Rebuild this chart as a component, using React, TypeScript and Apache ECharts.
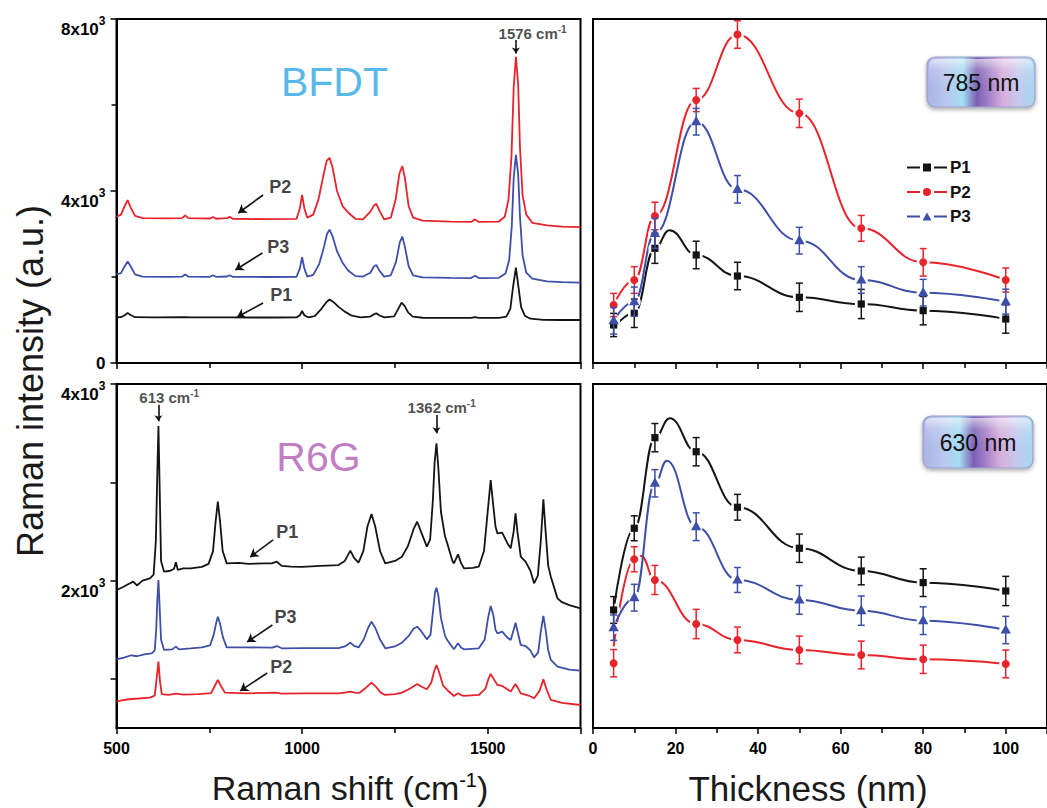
import React, { useEffect, useRef } from 'react';
import * as echarts from 'echarts';

const FONT = '"Liberation Sans", Arial, Helvetica, sans-serif';
const BLACK = '#141414';
const RED = '#e8232b';
const BLUE = '#3d4fa8';

// BFDT spectra: [Raman shift (cm-1), intensity]
const bfdtP1: number[][] = [
  [500, 1060], [512, 1065], [522, 1110], [530, 1165], [538, 1115], [550, 1065], [600, 1062], [684, 1068], [700, 1060],
  [760, 1062], [805, 1062], [860, 1058], [930, 1058], [985, 1060], [994, 1110], [1000, 1210], [1006, 1110], [1016, 1062],
  [1034, 1090], [1052, 1260], [1066, 1420], [1074, 1475], [1084, 1420], [1099, 1300], [1114, 1200], [1134, 1100],
  [1158, 1062], [1183, 1078], [1194, 1135], [1200, 1155], [1209, 1105], [1222, 1062], [1248, 1085], [1258, 1240],
  [1268, 1405], [1276, 1330], [1286, 1170], [1298, 1080], [1325, 1052], [1400, 1050], [1455, 1048], [1466, 1065],
  [1476, 1048], [1530, 1048], [1550, 1080], [1561, 1260], [1568, 1750], [1576, 2220], [1583, 1760], [1590, 1300],
  [1600, 1100], [1615, 1030], [1650, 1005], [1700, 1000], [1750, 1000],
];
const bfdtP3: number[][] = [
  [500, 2060], [512, 2090], [522, 2250], [530, 2360], [538, 2250], [550, 2060], [570, 2010], [640, 2005], [676, 2008],
  [685, 2060], [694, 2008], [752, 2005], [760, 2040], [768, 2005], [798, 2012], [805, 2040], [813, 2005], [900, 2000],
  [985, 2005], [994, 2200], [1000, 2460], [1006, 2200], [1014, 2010], [1030, 2050], [1046, 2300], [1059, 2700],
  [1067, 3000], [1074, 3100], [1082, 2950], [1094, 2600], [1109, 2330], [1124, 2150], [1144, 2020], [1164, 2010],
  [1184, 2100], [1194, 2250], [1200, 2280], [1208, 2150], [1221, 2010], [1239, 2040], [1253, 2350], [1263, 2800],
  [1270, 2940], [1277, 2700], [1287, 2250], [1299, 2040], [1325, 1990], [1400, 1980], [1455, 1975], [1466, 2030],
  [1476, 1975], [1530, 1980], [1548, 2080], [1558, 2400], [1565, 3200], [1570, 4300], [1576, 4840], [1582, 4400],
  [1587, 3400], [1594, 2500], [1604, 2100], [1620, 1960], [1660, 1900], [1700, 1880], [1750, 1870],
];
const bfdtP2: number[][] = [
  [500, 3400], [512, 3450], [522, 3650], [530, 3790], [538, 3620], [550, 3420], [570, 3370], [640, 3365], [676, 3370],
  [685, 3430], [694, 3370], [752, 3360], [760, 3395], [768, 3355], [798, 3370], [805, 3400], [813, 3355], [900, 3345],
  [985, 3350], [994, 3600], [1000, 3910], [1006, 3600], [1014, 3380], [1030, 3450], [1044, 3800], [1056, 4300],
  [1066, 4700], [1074, 4770], [1082, 4550], [1094, 4000], [1109, 3650], [1124, 3500], [1144, 3350], [1164, 3340],
  [1184, 3520], [1194, 3670], [1200, 3700], [1208, 3550], [1221, 3340], [1239, 3380], [1252, 3800], [1262, 4400],
  [1270, 4580], [1277, 4300], [1287, 3650], [1299, 3380], [1325, 3310], [1400, 3290], [1455, 3280], [1466, 3340],
  [1476, 3280], [1530, 3290], [1546, 3400], [1556, 3800], [1564, 4800], [1570, 6400], [1576, 7120], [1582, 6500],
  [1587, 5000], [1594, 3900], [1604, 3450], [1620, 3260], [1660, 3200], [1700, 3170], [1750, 3160],
];

// R6G spectra: [Raman shift (cm-1), intensity]
const r6gP1: number[][] = [
  [500, 1904], [515, 1930], [530, 1960], [545, 1989], [555, 1950], [570, 2000], [590, 2023], [600, 2060], [606, 2400],
  [610, 3100], [613, 3572], [616, 3000], [620, 2200], [628, 2091], [645, 2100], [655, 2120], [660, 2186], [665, 2110],
  [680, 2125], [700, 2125], [730, 2140], [748, 2170], [760, 2300], [767, 2600], [773, 2803], [779, 2600], [786, 2300],
  [797, 2175], [830, 2180], [855, 2170], [900, 2175], [918, 2175], [932, 2192], [945, 2150], [970, 2141], [1000, 2140],
  [1050, 2150], [1098, 2158], [1115, 2200], [1130, 2304], [1140, 2230], [1152, 2182], [1165, 2300], [1176, 2550],
  [1187, 2677], [1197, 2550], [1210, 2300], [1224, 2175], [1250, 2200], [1269, 2243], [1285, 2350], [1300, 2520],
  [1310, 2599], [1320, 2500], [1336, 2345], [1345, 2420], [1352, 2800], [1357, 3200], [1362, 3396], [1367, 3150],
  [1374, 2700], [1385, 2450], [1391, 2379], [1405, 2200], [1409, 2175], [1420, 2267], [1428, 2180], [1436, 2125],
  [1460, 2130], [1476, 2141], [1490, 2300], [1500, 2700], [1508, 3023], [1514, 2800], [1521, 2550], [1526, 2481],
  [1539, 2487], [1553, 2380], [1562, 2328], [1570, 2500], [1575, 2684], [1580, 2500], [1589, 2243], [1602, 2192],
  [1615, 2100], [1625, 1972], [1635, 2050], [1643, 2400], [1650, 2826], [1656, 2500], [1663, 2150], [1670, 2040],
  [1688, 1819], [1700, 1780], [1720, 1750], [1750, 1718],
];
const r6gP3: number[][] = [
  [500, 1199], [520, 1215], [540, 1240], [555, 1230], [575, 1250], [595, 1260], [603, 1290], [607, 1500], [610, 1800],
  [613, 2006], [616, 1750], [620, 1400], [628, 1294], [650, 1300], [660, 1328], [668, 1300], [700, 1310], [730, 1320],
  [752, 1340], [762, 1450], [768, 1560], [773, 1633], [779, 1560], [787, 1420], [797, 1321], [850, 1320], [920, 1318],
  [932, 1334], [945, 1311], [1000, 1312], [1050, 1312], [1098, 1312], [1115, 1330], [1130, 1368], [1140, 1335],
  [1152, 1320], [1166, 1400], [1178, 1520], [1187, 1582], [1197, 1520], [1210, 1400], [1224, 1311], [1250, 1330],
  [1269, 1368], [1288, 1440], [1300, 1510], [1310, 1531], [1320, 1490], [1336, 1402], [1346, 1450], [1353, 1700],
  [1358, 1880], [1362, 1928], [1367, 1850], [1374, 1620], [1385, 1440], [1391, 1395], [1409, 1301], [1420, 1362],
  [1428, 1320], [1436, 1301], [1476, 1311], [1492, 1400], [1501, 1620], [1508, 1741], [1515, 1650], [1521, 1500],
  [1526, 1463], [1539, 1480], [1553, 1420], [1562, 1395], [1570, 1500], [1575, 1572], [1580, 1490], [1589, 1345],
  [1602, 1334], [1615, 1290], [1625, 1219], [1636, 1270], [1643, 1480], [1650, 1640], [1656, 1500], [1663, 1290],
  [1670, 1192], [1688, 1124], [1720, 1095], [1750, 1083],
];
const r6gP2: number[][] = [
  [500, 768], [520, 785], [540, 795], [560, 800], [590, 809], [603, 830], [608, 1000], [613, 1175], [617, 980], [622, 845],
  [640, 836], [660, 850], [680, 840], [720, 845], [755, 855], [765, 930], [773, 989], [781, 930], [792, 860], [850, 853],
  [930, 860], [945, 850], [1000, 852], [1050, 853], [1098, 853], [1115, 860], [1130, 870], [1142, 860], [1155, 858],
  [1172, 910], [1187, 961], [1200, 915], [1212, 860], [1224, 836], [1250, 845], [1269, 860], [1290, 900], [1310, 948],
  [1322, 920], [1336, 894], [1348, 960], [1356, 1080], [1362, 1141], [1369, 1070], [1380, 930], [1391, 887], [1409, 826],
  [1420, 853], [1428, 835], [1436, 826], [1476, 836], [1494, 900], [1502, 1000], [1508, 1050], [1516, 1000], [1526, 938],
  [1539, 928], [1553, 895], [1562, 870], [1570, 920], [1575, 948], [1581, 910], [1589, 853], [1610, 830], [1625, 802],
  [1640, 880], [1650, 995], [1658, 900], [1670, 785], [1700, 755], [1750, 734],
];

// Thickness dependence (nm) with error bars
const thickness = [5, 10, 15, 25, 35, 50, 65, 80, 100];

const nir785P1 = [884, 1156, 2667, 2512, 2023, 1528, 1372, 1217, 1023];
const nir785P2 = [1349, 1930, 3419, 6116, 7640, 5806, 3132, 2341, 1930];
const nir785P3 = [984, 1426, 3016, 5612, 4039, 2845, 1930, 1635, 1426];
const err785P1 = [270, 330, 350, 320, 320, 330, 340, 330, 330];
const err785P2 = [270, 310, 320, 270, 320, 330, 300, 320, 280];
const err785P3 = [310, 340, 350, 310, 320, 310, 310, 310, 290];

const red630P1 = [1701, 2532, 3454, 3311, 2746, 2329, 2098, 1979, 1894];
const red630P2 = [1159, 2217, 2006, 1558, 1396, 1294, 1243, 1199, 1152];
const red630P3 = [1521, 1826, 2990, 2548, 2006, 1803, 1694, 1592, 1497];
const err630P1 = [136, 127, 144, 144, 131, 144, 141, 141, 149];
const err630P2 = [139, 127, 148, 149, 131, 141, 141, 144, 141];
const err630P3 = [129, 136, 139, 141, 127, 146, 149, 141, 139];

// Fitted guide curves: [thickness, intensity]
const fit785P1: number[][] = [[5, 810], [10, 1160], [15, 2667], [18.5, 3090], [25, 2512], [35, 2023], [50, 1528], [65, 1372], [80, 1217], [100, 1023]];
const fit785P2: number[][] = [[5, 1349], [10, 1930], [15, 3419], [25, 6116], [35, 7640], [50, 5806], [65, 3132], [80, 2341], [100, 1930]];
const fit785P3: number[][] = [[5, 984], [10, 1426], [15, 3016], [25, 5612], [35, 4039], [50, 2845], [65, 1930], [80, 1635], [100, 1426]];
const fit630P1: number[][] = [[5, 1701], [10, 2532], [15, 3454], [18.6, 3651], [25, 3311], [35, 2746], [50, 2329], [65, 2098], [80, 1979], [100, 1894]];
const fit630P2: number[][] = [[5, 1330], [10, 2217], [11.7, 2250], [15, 2006], [25, 1558], [35, 1396], [50, 1294], [65, 1243], [80, 1199], [100, 1152]];
const fit630P3: number[][] = [[5, 1521], [10, 1826], [15, 2990], [17.9, 3220], [25, 2548], [35, 2006], [50, 1803], [65, 1694], [80, 1592], [100, 1497]];

const axisText = { fontFamily: FONT, fontWeight: 'bold' as const, color: '#000' };

// "Nx10^3" tick labels: mantissa sits below the tick, exponent next to the tick
const sciRich = {
  z: { ...axisText, fontSize: 17 },
  b: { ...axisText, fontSize: 17, lineHeight: 17, padding: [21, 0, 0, 0] },
  s: { ...axisText, fontSize: 12, lineHeight: 12, padding: [15, 0, 11, 0] },
};
const sciLabel = (v: number) => (v === 0 ? '{z|0}' : `{b|${v / 1000}x10}{s|3}`);

const peakRich = {
  a: { fontFamily: FONT, fontWeight: 'bold', fontSize: 15, color: '#222' },
  s: { fontFamily: FONT, fontWeight: 'bold', fontSize: 10, color: '#222', padding: [0, 0, 8, 0] },
};

const axisLine = { show: true, lineStyle: { color: '#000', width: 2 } };
const tick = { show: true, length: 6, lineStyle: { color: '#000', width: 1.5 } };
const minor = { show: true, splitNumber: 2, length: 5, lineStyle: { color: '#000', width: 1.5 } };

function spectrum(data: number[][], color: string, idx: number) {
  return {
    type: 'line', data, xAxisIndex: idx, yAxisIndex: idx, symbol: 'none', silent: true,
    lineStyle: { color, width: 1.8 }, itemStyle: { color }, z: 2,
  };
}

function fitCurve(name: string, data: number[][], color: string, idx: number) {
  return {
    type: 'line', name, data, xAxisIndex: idx, yAxisIndex: idx, symbol: 'none', smooth: 0.45,
    smoothMonotone: 'x', silent: true, lineStyle: { color, width: 2 }, itemStyle: { color }, z: 2,
  };
}

function halo(xs: number[], ys: number[], idx: number) {
  return {
    type: 'custom', xAxisIndex: idx, yAxisIndex: idx, silent: true, clip: false, z: 3,
    data: xs.map((x, i) => [x, ys[i]]),
    encode: { x: 0, y: 1 },
    renderItem: (_p: any, api: any) => {
      const c = api.coord([api.value(0), api.value(1)]);
      return { type: 'circle', shape: { cx: c[0], cy: c[1], r: 6.5 }, style: { fill: '#fff' } };
    },
  };
}

function markers(name: string, shape: string, color: string, xs: number[], ys: number[], errs: number[], idx: number) {
  return {
    type: 'custom', name, xAxisIndex: idx, yAxisIndex: idx, silent: true, clip: false, z: 4,
    itemStyle: { color },
    data: xs.map((x, i) => [x, ys[i], errs[i]]),
    encode: { x: 0, y: 1 },
    renderItem: (_p: any, api: any) => {
      const x = api.value(0);
      const y = api.value(1);
      const e = api.value(2);
      const c = api.coord([x, y]);
      const t = api.coord([x, y + e]);
      const b = api.coord([x, y - e]);
      const cap = 3.5;
      const st = { stroke: color, lineWidth: 1.5 };
      let m: any;
      if (shape === 'square') {
        m = { type: 'rect', shape: { x: c[0] - 3.6, y: c[1] - 3.6, width: 7.2, height: 7.2 }, style: { fill: color } };
      } else if (shape === 'circle') {
        m = { type: 'circle', shape: { cx: c[0], cy: c[1], r: 4 }, style: { fill: color } };
      } else {
        m = {
          type: 'polygon',
          shape: { points: [[c[0], c[1] - 5.8], [c[0] + 5.2, c[1] + 3.6], [c[0] - 5.2, c[1] + 3.6]] },
          style: { fill: color },
        };
      }
      return {
        type: 'group',
        children: [
          { type: 'line', shape: { x1: c[0], y1: t[1], x2: c[0], y2: b[1] }, style: st },
          { type: 'line', shape: { x1: c[0] - cap, y1: t[1], x2: c[0] + cap, y2: t[1] }, style: st },
          { type: 'line', shape: { x1: c[0] - cap, y1: b[1], x2: c[0] + cap, y2: b[1] }, style: st },
          m,
        ],
      };
    },
  };
}

function annotations(idx: number, items: any[], arrows: number[][][]) {
  return {
    type: 'scatter', xAxisIndex: idx, yAxisIndex: idx, symbolSize: 0, silent: true, z: 6,
    label: { show: true, position: 'inside', fontFamily: FONT, fontWeight: 'bold', fontSize: 18, color: '#111' },
    data: items,
    markLine: {
      silent: true,
      symbol: ['none', 'arrow'],
      symbolSize: 8,
      label: { show: false },
      lineStyle: { color: '#111', width: 1.6, type: 'solid' },
      emphasis: { disabled: true },
      data: arrows.map((a) => [{ coord: a[0] }, { coord: a[1], symbolSize: a[2] ? a[2][0] : 8 }]),
    },
  };
}

function badge(x: number, y: number, w: number, h: number, label: string) {
  const grad = new echarts.graphic.LinearGradient(0, 0, 1, 0, [
    { offset: 0, color: '#aab3e6' },
    { offset: 0.18, color: '#b9c6ee' },
    { offset: 0.33, color: '#a3def3' },
    { offset: 0.46, color: '#7d60b4' },
    { offset: 0.56, color: '#9f7cc6' },
    { offset: 0.7, color: '#d6aedb' },
    { offset: 0.85, color: '#c6c9ee' },
    { offset: 1, color: '#a2d8f1' },
  ]);
  const gloss = new echarts.graphic.LinearGradient(0, 0, 0, 1, [
    { offset: 0, color: 'rgba(255,255,255,0.6)' },
    { offset: 0.4, color: 'rgba(255,255,255,0.15)' },
    { offset: 1, color: 'rgba(255,255,255,0)' },
  ]);
  return {
    type: 'group',
    x,
    y,
    children: [
      {
        type: 'rect', shape: { x: 0, y: 0, width: w, height: h, r: 8 },
        style: { fill: grad, stroke: '#9aa0c6', lineWidth: 1.2, shadowBlur: 4, shadowOffsetY: 2, shadowColor: 'rgba(0,0,0,0.35)' },
      },
      { type: 'rect', shape: { x: 2, y: 2, width: w - 4, height: h * 0.55, r: 6 }, style: { fill: gloss } },
      {
        type: 'text', x: w / 2, y: h / 2 + 1,
        style: {
          text: label, fontFamily: FONT, fontSize: 23, fill: '#111',
          align: 'center', verticalAlign: 'middle',
        },
      },
    ],
  };
}

const legendIcons = {
  P1: 'path://M0,3h13v2H0zM16,0h8v8h-8zM27,3h13v2H27z',
  P2: 'path://M0,3h13v2H0zM16,4a4,4 0 1,0 8,0a4,4 0 1,0 -8,0zM27,3h13v2H27z',
  P3: 'path://M0,3h13v2H0zM15.5,8L20,0L24.5,8zM27,3h13v2H27z',
};

export default function App() {
  const ref = useRef<HTMLDivElement>(null);

  useEffect(() => {
    if (!ref.current) return;
    const chart = echarts.init(ref.current, null, { renderer: 'svg' });

    const grids = [
      { left: 116.5, top: 19, width: 464, height: 344 },
      { left: 116.5, top: 384, width: 464, height: 344 },
      { left: 593, top: 19, width: 464, height: 344 },
      { left: 593, top: 384, width: 464, height: 344 },
    ].map((g) => ({ ...g, show: true, borderColor: '#000', borderWidth: 2, backgroundColor: 'transparent' }));

    const xShift = (idx: number, showLabel: boolean) => ({
      type: 'value', gridIndex: idx, min: 500, max: 1750, interval: 500,
      axisLine, axisTick: tick, minorTick: minor, splitLine: { show: false },
      axisLabel: { show: showLabel, ...axisText, fontSize: 16, margin: 12, formatter: (v: number) => (v < 1750 ? String(v) : '') },
    });
    const xThick = (idx: number, showLabel: boolean) => ({
      type: 'value', gridIndex: idx, min: 0, max: 110, interval: 20,
      axisLine, axisTick: tick, minorTick: minor, splitLine: { show: false },
      axisLabel: { show: showLabel, ...axisText, fontSize: 16, margin: 12, showMaxLabel: false },
    });

    const option: any = {
      animation: false,
      backgroundColor: '#fff',
      grid: grids,
      xAxis: [xShift(0, false), xShift(1, true), xThick(2, false), xThick(3, true)],
      yAxis: [
        {
          type: 'value', gridIndex: 0, min: 0, max: 8000, interval: 4000,
          axisLine, axisTick: tick, minorTick: minor, splitLine: { show: false },
          axisLabel: { formatter: sciLabel, rich: sciRich, margin: 11 },
        },
        {
          type: 'value', gridIndex: 1, min: 500, max: 4000,
          axisLine, splitLine: { show: false },
          axisTick: { ...tick, customValues: [1000, 2000, 3000, 4000] },
          axisLabel: { customValues: [2000, 4000], formatter: sciLabel, rich: sciRich, margin: 11 },
        },
        {
          type: 'value', gridIndex: 2, min: 0, max: 8000,
          axisLine, axisTick: { show: false }, axisLabel: { show: false }, splitLine: { show: false },
        },
        {
          type: 'value', gridIndex: 3, min: 500, max: 4000,
          axisLine, axisTick: { show: false }, axisLabel: { show: false }, splitLine: { show: false },
        },
      ],
      legend: {
        left: 902, top: 154, orient: 'vertical', itemWidth: 40, itemHeight: 8, itemGap: 7.5,
        selectedMode: false,
        textStyle: { fontFamily: FONT, fontWeight: 'bold', fontSize: 17, color: '#111', padding: [0, 0, 0, -2] },
        data: [
          { name: 'P1', icon: legendIcons.P1 },
          { name: 'P2', icon: legendIcons.P2 },
          { name: 'P3', icon: legendIcons.P3 },
        ],
      },
      series: [
        spectrum(bfdtP1, BLACK, 0),
        spectrum(bfdtP3, BLUE, 0),
        spectrum(bfdtP2, RED, 0),
        spectrum(r6gP1, BLACK, 1),
        spectrum(r6gP3, BLUE, 1),
        spectrum(r6gP2, RED, 1),

        fitCurve('P1', fit785P1, BLACK, 2),
        fitCurve('P2', fit785P2, RED, 2),
        fitCurve('P3', fit785P3, BLUE, 2),
        fitCurve('P1', fit630P1, BLACK, 3),
        fitCurve('P2', fit630P2, RED, 3),
        fitCurve('P3', fit630P3, BLUE, 3),

        halo(thickness, nir785P1, 2),
        halo(thickness, nir785P2, 2),
        halo(thickness, nir785P3, 2),
        halo(thickness, red630P1, 3),
        halo(thickness, red630P2, 3),
        halo(thickness, red630P3, 3),

        markers('P1', 'square', BLACK, thickness, nir785P1, err785P1, 2),
        markers('P2', 'circle', RED, thickness, nir785P2, err785P2, 2),
        markers('P3', 'triangle', BLUE, thickness, nir785P3, err785P3, 2),
        markers('P1', 'square', BLACK, thickness, red630P1, err630P1, 3),
        markers('P2', 'circle', RED, thickness, red630P2, err630P2, 3),
        markers('P3', 'triangle', BLUE, thickness, red630P3, err630P3, 3),

        annotations(
          0,
          [
            { value: [941, 4093], label: { formatter: 'P2' } },
            { value: [936, 2698], label: { formatter: 'P3' } },
            { value: [944, 1581], label: { formatter: 'P1' } },
            { value: [1087, 6535], label: { formatter: 'BFDT', fontSize: 41, fontWeight: 'normal', color: '#2aa6e2' } },
            { value: [1621, 7674], label: { formatter: '{a|1576 cm}{s|-1}', rich: peakRich } },
          ],
          [
            [[895, 3907], [828, 3488]],
            [[893, 2558], [820, 2163]],
            [[895, 1395], [825, 1070]],
            [[1576, 7512], [1576, 7200], [6]],
          ],
        ),
        annotations(
          1,
          [
            { value: [960, 2494], label: { formatter: 'P1' } },
            { value: [955, 1630], label: { formatter: 'P3' } },
            { value: [944, 1121], label: { formatter: 'P2' } },
            { value: [1044, 3257], label: { formatter: 'R6G', fontSize: 41, fontWeight: 'normal', color: '#b25ab3' } },
            { value: [642, 3858], label: { formatter: '{a|613 cm}{s|-1}', rich: peakRich } },
            { value: [1376, 3756], label: { formatter: '{a|1362 cm}{s|-1}', rich: peakRich } },
          ],
          [
            [[922, 2413], [860, 2240]],
            [[920, 1548], [852, 1375]],
            [[906, 1060], [833, 877]],
            [[613, 3790], [613, 3620], [6]],
            [[1362, 3685], [1362, 3500], [6]],
          ],
        ),
      ],
      graphic: [
        {
          type: 'text', x: 30, y: 381, rotation: Math.PI / 2,
          style: { text: 'Raman intensity (a.u.)', fontFamily: FONT, fontSize: 36, fill: '#1a1a1a', align: 'center', verticalAlign: 'middle' },
        },
        {
          type: 'text', x: 350, y: 788,
          style: {
            text: '{a|Raman shift (cm}{s|-1}{a|)}', align: 'center', verticalAlign: 'middle',
            rich: {
              a: { fontFamily: FONT, fontSize: 34, fill: '#1a1a1a', color: '#1a1a1a' },
              s: { fontFamily: FONT, fontSize: 20, color: '#1a1a1a', padding: [0, 0, 16, 0] },
            },
          },
        },
        {
          type: 'text', x: 808, y: 788,
          style: { text: 'Thickness (nm)', fontFamily: FONT, fontSize: 35, fill: '#1a1a1a', align: 'center', verticalAlign: 'middle' },
        },
        badge(927, 57, 108, 50, '785 nm'),
        badge(923, 416, 110, 52, '630 nm'),
      ],
    };

    chart.setOption(option);
    return () => chart.dispose();
  }, []);

  return <div ref={ref} style={{ position: 'absolute', left: 0, top: 0, width: 1047, height: 808, background: '#fff' }} />;
}
